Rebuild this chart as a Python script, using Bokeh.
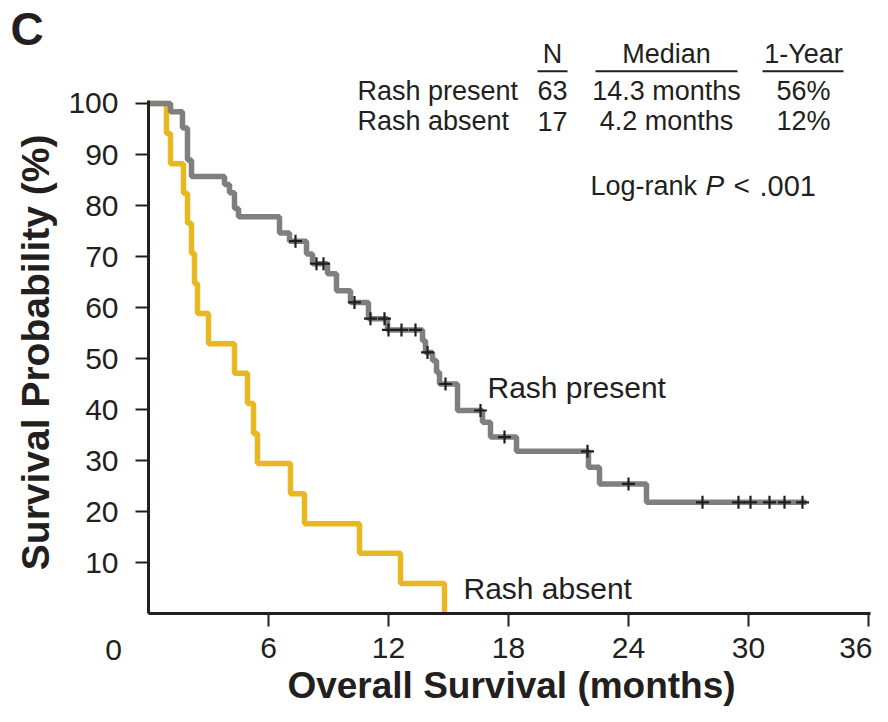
import numpy as np
from bokeh.plotting import figure
from bokeh.models import Range1d, FixedTicker, ColumnDataSource
from bokeh.embed import file_html
from bokeh.resources import INLINE
from bokeh.core.properties import value

# ---------------- data ----------------
# Rash present (N = 63): step change times (months) and survival (%) after each step
present_time = [0, 1.1, 1.7, 1.95, 2.15, 3.8, 4.05, 4.3, 4.5, 6.55, 7.05, 7.9, 8.2,
                8.95, 9.4, 10.1, 11.0, 11.95, 13.7, 13.85, 14.2, 14.4, 14.55, 15.45,
                16.7, 17.1, 18.4, 22.0, 22.55, 24.9, 32.9]
present_surv = [100, 98.4, 95.2, 88.9, 85.7, 84.1, 82.5, 79.4, 77.8, 74.6, 73.0, 70.5, 68.6,
                66.6, 63.3, 61.0, 57.8, 55.6, 53.5, 51.2, 49.6, 47.3, 45.0, 39.8,
                37.5, 34.6, 31.8, 28.7, 25.4, 21.8, 21.8]
# censored observations (months) on the rash-present curve
present_censor_time = [7.35, 8.4, 8.75, 10.3, 11.1, 11.8, 12.0, 12.65, 13.35, 13.95,
                       14.85, 16.6, 17.8, 21.95, 24.0, 27.7, 29.5, 30.1, 31.05, 31.8, 32.7]

# Rash absent (N = 17)
absent_time = [0, 0.9, 1.1, 1.75, 1.95, 2.15, 2.3, 2.45, 3.0, 4.3, 4.95, 5.25, 5.45,
               7.1, 7.8, 10.55, 12.6, 14.8]
absent_surv = [100, 94.1, 88.2, 82.4, 76.5, 70.6, 64.7, 58.8, 52.9, 47.1, 41.2, 35.3, 29.4,
               23.5, 17.6, 11.8, 5.9, 0]

groups = ["Rash present", "Rash absent"]
n_patients = ["63", "17"]
median_os = ["14.3 months", "4.2 months"]
one_year_os = ["56%", "12%"]
table_headers = ["N", "Median", "1-Year"]

x_ticks = [6, 12, 18, 24, 30, 36]
y_ticks = [10, 20, 30, 40, 50, 60, 70, 80, 90, 100]

# ---------------- styling ----------------
FONT = "Liberation Sans"
INK = "#231f20"
GRAY = "#7f7f7f"
YELLOW = "#e8b823"

W, H = 872, 706
# the frame covers the whole canvas; axes are pinned at x=0 / y=0
p = figure(width=W, height=H,
           x_range=Range1d(-7.4, 36.2), y_range=Range1d(-18.235, 120.196),
           output_backend="svg", toolbar_location=None,
           min_border_left=0, min_border_right=0,
           min_border_top=0, min_border_bottom=0)
p.title.visible = False
p.outline_line_color = None
p.xgrid.visible = False
p.ygrid.visible = False
p.background_fill_color = "white"
p.border_fill_color = "white"

for ax in (p.xaxis[0], p.yaxis[0]):
    ax.fixed_location = 0
    ax.axis_line_width = 3
    ax.axis_line_color = INK
    ax.major_tick_line_width = 2
    ax.major_tick_line_color = INK
    ax.major_tick_out = 13
    ax.major_tick_in = 0
    ax.minor_tick_line_color = None
    ax.major_label_text_font = FONT
    ax.major_label_text_font_size = "30px"
    ax.major_label_text_color = INK

p.xaxis.ticker = FixedTicker(ticks=x_ticks)
p.xaxis.bounds = (0, 36.1)
p.xaxis.major_label_standoff = 11
p.yaxis.ticker = FixedTicker(ticks=y_ticks)
p.yaxis.bounds = (0, 100.6)
p.yaxis.major_label_standoff = 17

# ---------------- curves ----------------
p.step(absent_time, absent_surv, mode="after", line_color=YELLOW, line_width=5.5)
p.step(present_time, present_surv, mode="after", line_color=GRAY, line_width=5.5)

pt = np.array(present_time)
ps = np.array(present_surv)
ct = np.array(present_censor_time)
cs = ps[np.searchsorted(pt, ct, side="right") - 1]
p.scatter(ct, cs, marker="cross", size=13, line_width=2.2, line_color="#1e1e1e")

# ---------------- table ----------------
tfont = value(FONT)
hdr = ColumnDataSource(dict(x=[20.2, 25.9, 32.75], y=[109.8] * 3, t=table_headers))
p.text(x="x", y="y", text="t", source=hdr, text_font=tfont, text_font_size="27px",
       text_color=INK, text_align="center", text_baseline="alphabetic")
p.segment(x0=[19.45, 22.35, 30.7], y0=[106.3] * 3, x1=[20.95, 29.45, 34.75], y1=[106.3] * 3,
          line_color=INK, line_width=2)

row_y = [102.5, 96.5]
for xs, txt, align in ((10.45, groups, "left"), (20.2, n_patients, "center"),
                       (25.9, median_os, "center"), (32.75, one_year_os, "center")):
    p.text(x=[xs] * 2, y=row_y, text=txt, text_font=tfont, text_font_size="27px",
           text_color=INK, text_align=align, text_baseline="alphabetic")

# log-rank
p.text(x=[22.1], y=[83.9], text=["Log-rank"], text_font=tfont, text_font_size="27px",
       text_color=INK, text_align="left", text_baseline="alphabetic")
p.text(x=[27.85], y=[83.9], text=["P"], text_font=tfont, text_font_size="28px",
       text_font_style="italic", text_color=INK, text_align="left", text_baseline="alphabetic")
p.text(x=[29.25], y=[83.9], text=["<"], text_font=tfont, text_font_size="28px",
       text_color=INK, text_align="left", text_baseline="alphabetic")
p.text(x=[30.55], y=[83.9], text=[".001"], text_font=tfont, text_font_size="29px",
       text_color=INK, text_align="left", text_baseline="alphabetic")

# curve labels
p.text(x=[16.95], y=[44.3], text=["Rash present"], text_font=tfont, text_font_size="30px",
       text_color=INK, text_align="left", text_baseline="alphabetic")
p.text(x=[15.75], y=[4.9], text=["Rash absent"], text_font=tfont, text_font_size="30px",
       text_color=INK, text_align="left", text_baseline="alphabetic")

# panel letter, axis titles and the offset "0" tick label
p.text(x=[-6.9], y=[114.7], text=["C"], text_font=tfont, text_font_size="46px",
       text_font_style="bold", text_color=INK, text_align="left", text_baseline="alphabetic")
p.text(x=[-5.65], y=[51.2], text=["Survival Probability (%)"], angle=np.pi / 2,
       text_font=tfont, text_font_size="39px", text_font_style="bold",
       text_color=INK, text_align="center", text_baseline="middle")
p.text(x=[18.15], y=[-14.1], text=["Overall Survival (months)"],
       text_font=tfont, text_font_size="37px", text_font_style="bold",
       text_color=INK, text_align="center", text_baseline="alphabetic")
p.text(x=[-1.75], y=[-7.06], text=["0"], text_font=tfont, text_font_size="30px",
       text_color=INK, text_align="center", text_baseline="alphabetic")

open("out.html", "w").write(file_html(p, INLINE))
